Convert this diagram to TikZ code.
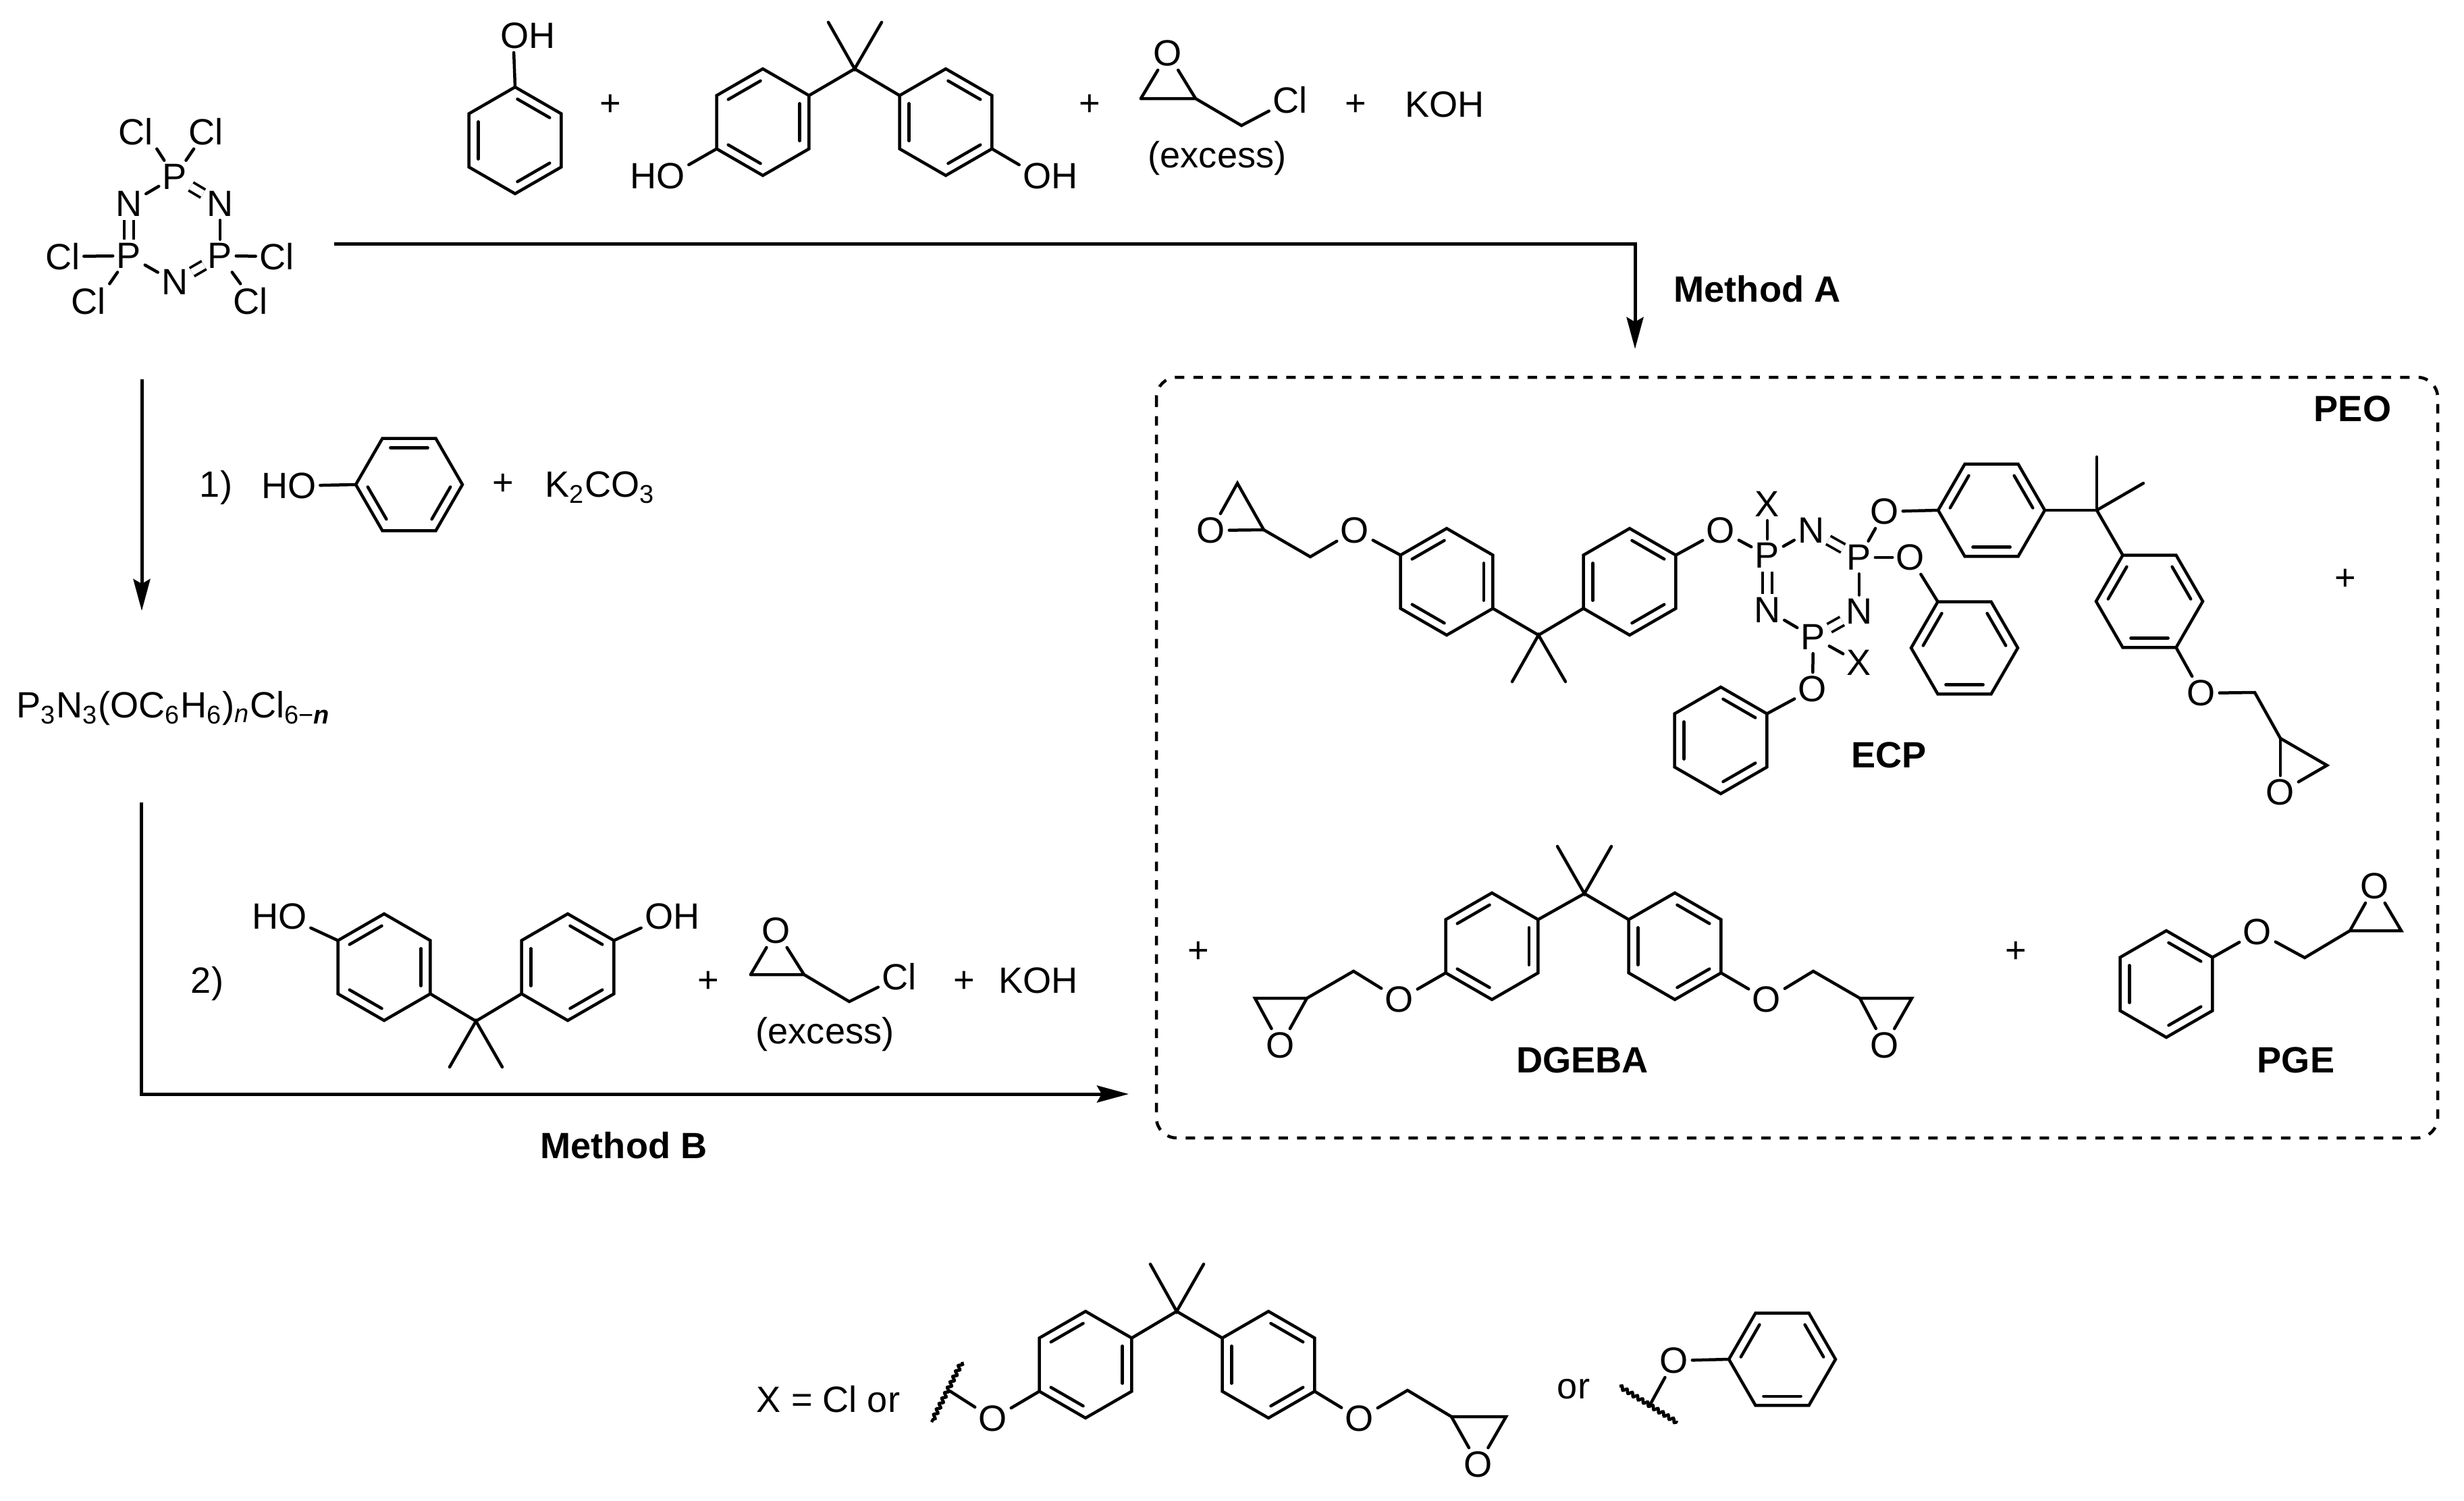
\documentclass[tikz,border=0pt]{standalone}
\usepackage{fontspec}
\setmainfont{Liberation Sans}
\usetikzlibrary{calc,arrows.meta,decorations.pathmorphing}

\newlength{\du}
\setlength{\du}{0.01cm}

\tikzset{
  bond/.style={line width=4.5\du,line cap=round,line join=miter},
  dblbond/.style={line width=3.8\du,double,double distance=10\du},
  innerbond/.style={bond,shorten >=4\du,shorten <=4\du},
  wavybond/.style={line width=4.5\du,decorate,decoration={snake,amplitude=2.5\du,segment length=9\du}},
  rxnarrow/.style={line width=5\du,-{Stealth[length=.47cm,width=.25cm,inset=.07cm]}},
  peobox/.style={line width=4.5\du,rounded corners=30\du,dash pattern=on 14\du off 13.5\du},
  atom/.style={inner sep=5\du,font=\fontsize{15.4}{18}\selectfont},
  txt/.style={inner sep=0pt,font=\fontsize{15.4}{18}\selectfont},
  lbl/.style={inner sep=0pt,font=\fontsize{15.4}{18}\selectfont\bfseries}
}

% ring: name, centre x, centre y, start angle, double bonds
\newcommand{\benzring}[5]{
  \coordinate (#1c) at (#2\du,#3\du);
  \foreach \i [evaluate=\i as \a using #4+60*(\i-1)] in {1,...,6}
    \coordinate (#1\i) at ([shift={(#2\du,#3\du)}]\a:79\du);
  \draw[bond] (#11)--(#12)--(#13)--(#14)--(#15)--(#16)--cycle;
  \foreach \p/\q in {#5}
    \draw[innerbond] ($(#1\p)!.2!(#1c)$)--($(#1\q)!.2!(#1c)$);
}

\begin{document}
\begin{tikzpicture}
\pgftransformyscale{-1.000000}
\useasboundingbox (0\du,0\du) rectangle (3650\du,2224\du);

% cyclophosphazene
\node[atom] (pA) at (259\du,262\du) {P};
\node[atom] (pB) at (191\du,379\du) {P};
\node[atom] (pC) at (326\du,379\du) {P};
\node[atom] (nA) at (191\du,302\du) {N};
\node[atom] (nB) at (326\du,302\du) {N};
\node[atom] (nC) at (259\du,418\du) {N};
\node[atom] (clA) at (201\du,195\du) {Cl};
\node[atom] (clB) at (305\du,195\du) {Cl};
\node[atom] (clC) at (93\du,380\du) {Cl};
\node[atom] (clD) at (410\du,380\du) {Cl};
\node[atom] (clF) at (131\du,446\du) {Cl};
\node[atom] (clG) at (371\du,446\du) {Cl};
\draw[bond] (pA)--(nA);
\draw[dblbond] (pA)--(nB);
\draw[dblbond] (nA)--(pB);
\draw[bond] (nB)--(pC);
\draw[bond] (pB)--(nC);
\draw[dblbond] (nC)--(pC);
\draw[bond] (pA)--(clA.south east);
\draw[bond] (pA)--(clB.-125);
\draw[bond] (pB)--(clC);
\draw[bond] (pC)--(clD);
\draw[bond] (pB)--(clF.north east);
\draw[bond] (pC)--(clG.120);

% phenol
\benzring{phA}{763}{208}{30}{1/2,3/4,5/6}
\node[atom] (ohA) at (782\du,53\du) {OH};
\draw[bond] (phA5)--(ohA.-130);
\node[txt] (plusA) at (904\du,156\du) {+};

% bisphenol A
\benzring{bpL}{1130}{181}{30}{6/1,2/3,4/5}
\benzring{bpR}{1401}{181}{30}{1/2,3/4,5/6}
\coordinate (cA) at (1266\du,102\du);
\coordinate (meA) at (1227\du,33\du);
\coordinate (meB) at (1306\du,33\du);
\draw[bond] (bpL6)--(cA)--(bpR4);
\draw[bond] (meA)--(cA)--(meB);
\node[atom] (hoA) at (974\du,261\du) {HO};
\node[atom] (ohB) at (1556\du,261\du) {OH};
\draw[bond] (bpL3)--(hoA.20);
\draw[bond] (bpR1)--(ohB.160);
\node[txt] (plusB) at (1614\du,156\du) {+};

% epichlorohydrin
\node[atom] (oE) at (1730\du,79\du) {O};
\coordinate (ecA) at (1690\du,146\du);
\coordinate (ecB) at (1771\du,146\du);
\coordinate (ecC) at (1839\du,186\du);
\node[atom] (clE) at (1911\du,148\du) {Cl};
\draw[bond] (ecA)--(oE);
\draw[bond] (ecB)--(oE);
\draw[bond] (ecA)--(ecB)--(ecC)--(clE);
\node[txt] (excA) at (1803\du,234\du) {(excess)};
\node[txt] (plusC) at (2008\du,156\du) {+};
\node[txt] (kohA) at (2140\du,155\du) {KOH};

% method A
\coordinate (arAa) at (495\du,361\du);
\coordinate (arAb) at (2422\du,517\du);
\draw[rxnarrow] (arAa)-|(arAb);
\node[lbl] (methA) at (2603\du,428\du) {Method A};

% step 1
\coordinate (arBa) at (210\du,562\du);
\coordinate (arBb) at (210\du,905\du);
\draw[rxnarrow] (arBa)--(arBb);
\node[txt] (stepA) at (320\du,722\du) {1)};
\benzring{phB}{606}{718}{0}{1/2,3/4,5/6}
\node[atom] (hoB) at (428\du,720\du) {HO};
\draw[bond] (hoB)--(phB4);
\node[txt] (plusD) at (745\du,718\du) {+};
\node[txt,anchor=base west] (kcA) at (807\du,736\du) {K\textsubscript{2}CO\textsubscript{3}};

\node[txt,anchor=base west] (formA) at (24\du,1063\du) {P\textsubscript{3}N\textsubscript{3}(OC\textsubscript{6}H\textsubscript{6})\textsubscript{\textit{n}}Cl\textsubscript{6−\textbf{\textit{n}}}};

% step 2
\coordinate (arCa) at (209\du,1189\du);
\coordinate (arCb) at (1672\du,1621\du);
\draw[rxnarrow] (arCa)|-(arCb);
\node[txt] (stepB) at (307\du,1457\du) {2)};
\benzring{bqL}{569}{1433}{30}{6/1,2/3,4/5}
\benzring{bqR}{841}{1433}{30}{1/2,3/4,5/6}
\coordinate (cB) at (705\du,1513\du);
\coordinate (meC) at (666\du,1581\du);
\coordinate (meD) at (744\du,1581\du);
\draw[bond] (bqL1)--(cB)--(bqR3);
\draw[bond] (meC)--(cB)--(meD);
\node[atom] (hoC) at (414\du,1358\du) {HO};
\node[atom] (ohC) at (996\du,1358\du) {OH};
\draw[bond] (bqL4)--(hoC.-20);
\draw[bond] (bqR6)--(ohC.200);
\node[txt] (plusF) at (1049\du,1455\du) {+};
\node[atom] (oF) at (1150\du,1379\du) {O};
\coordinate (edA) at (1112\du,1444\du);
\coordinate (edB) at (1191\du,1444\du);
\coordinate (edC) at (1258\du,1484\du);
\node[atom] (clH) at (1332\du,1447\du) {Cl};
\draw[bond] (edA)--(oF);
\draw[bond] (edB)--(oF);
\draw[bond] (edA)--(edB)--(edC)--(clH);
\node[txt] (excB) at (1222\du,1532\du) {(excess)};
\node[txt] (plusG) at (1428\du,1455\du) {+};
\node[txt] (kohB) at (1538\du,1453\du) {KOH};
\node[lbl] (methB) at (924\du,1697\du) {Method B};

% product box
\coordinate (boxA) at (1713\du,559\du);
\coordinate (boxB) at (3611\du,1686\du);
\draw[peobox] (boxA) rectangle (boxB);
\node[lbl] (peo) at (3485\du,606\du) {PEO};

% ECP
\node[atom] (oG) at (1794\du,786\du) {O};
\coordinate (eeA) at (1833\du,716\du);
\coordinate (eeB) at (1872\du,785\du);
\coordinate (eeC) at (1941\du,825\du);
\node[atom] (oH) at (2007\du,786\du) {O};
\draw[bond] (oG)--(eeA)--(eeB);
\draw[bond] (oG)--(eeB);
\draw[bond] (eeB)--(eeC)--(oH);
\benzring{caL}{2143}{862}{30}{6/1,2/3,4/5}
\benzring{caR}{2414}{862}{30}{1/2,3/4,5/6}
\draw[bond] (oH)--(caL4);
\coordinate (cC) at (2279\du,941\du);
\coordinate (meF) at (2240\du,1010\du);
\coordinate (meG) at (2319\du,1010\du);
\draw[bond] (caL1)--(cC)--(caR3);
\draw[bond] (meF)--(cC)--(meG);
\node[atom] (oI) at (2549\du,786\du) {O};
\draw[bond] (caR6)--(oI);
\node[atom] (pD) at (2618\du,823\du) {P};
\node[atom] (pE) at (2754\du,826\du) {P};
\node[atom] (pF) at (2686\du,944\du) {P};
\node[atom] (nD) at (2683\du,786\du) {N};
\node[atom] (nE) at (2618\du,904\du) {N};
\node[atom] (nF) at (2754\du,906\du) {N};
\node[atom] (xA) at (2618\du,747\du) {X};
\node[atom] (xB) at (2754\du,982\du) {X};
\draw[bond] (oI)--(pD);
\draw[bond] (pD)--(xA);
\draw[bond] (pD)--(nD);
\draw[dblbond] (nD)--(pE);
\draw[dblbond] (pD)--(nE);
\draw[bond] (pE)--(nF);
\draw[dblbond] (nF)--(pF);
\draw[bond] (nE)--(pF);
\draw[bond] (pF)--(xB);
\node[atom] (oJ) at (2685\du,1021\du) {O};
\draw[bond] (pF)--(oJ);
\benzring{phC}{2549}{1097}{30}{1/2,3/4,5/6}
\draw[bond] (oJ)--(phC6);
\node[atom] (oK) at (2830\du,826\du) {O};
\draw[bond] (pE)--(oK);
\benzring{phD}{2910}{960}{0}{6/1,2/3,4/5}
\draw[bond] (oK)--(phD5);
\node[atom] (oL) at (2792\du,758\du) {O};
\draw[bond] (pE)--(oL);
\benzring{cbA}{2950}{756}{0}{6/1,2/3,4/5}
\draw[bond] (oL)--(cbA4);
\coordinate (cD) at (3106\du,756\du);
\coordinate (meH) at (3106\du,677\du);
\coordinate (meI) at (3175\du,716\du);
\draw[bond] (cbA1)--(cD)--(meH);
\draw[bond] (cD)--(meI);
\benzring{cbB}{3184}{891}{0}{6/1,2/3,4/5}
\draw[bond] (cD)--(cbB5);
\node[atom] (oM) at (3261\du,1027\du) {O};
\draw[bond] (cbB2)--(oM);
\coordinate (efA) at (3340\du,1026\du);
\coordinate (efB) at (3378\du,1094\du);
\coordinate (efC) at (3447\du,1134\du);
\node[atom] (oN) at (3378\du,1174\du) {O};
\draw[bond] (oM)--(efA)--(efB)--(efC)--(oN);
\draw[bond] (efB)--(oN);
\node[txt] (plusH) at (3474\du,859\du) {+};
\node[lbl] (ecp) at (2798\du,1119\du) {ECP};

% DGEBA
\node[txt] (plusI) at (1775\du,1411\du) {+};
\node[atom] (oP) at (1897\du,1549\du) {O};
\coordinate (egA) at (1859\du,1479\du);
\coordinate (egB) at (1936\du,1479\du);
\coordinate (egC) at (2005\du,1439\du);
\node[atom] (oQ) at (2073\du,1481\du) {O};
\draw[bond] (oP)--(egA)--(egB)--(oP);
\draw[bond] (egB)--(egC)--(oQ);
\benzring{dgL}{2210}{1402}{30}{6/1,2/3,4/5}
\benzring{dgR}{2481}{1402}{30}{1/2,3/4,5/6}
\draw[bond] (oQ)--(dgL3);
\coordinate (cF) at (2347\du,1324\du);
\coordinate (meJ) at (2307\du,1254\du);
\coordinate (meK) at (2387\du,1254\du);
\draw[bond] (dgL6)--(cF)--(dgR4);
\draw[bond] (meJ)--(cF)--(meK);
\node[atom] (oR) at (2617\du,1481\du) {O};
\draw[bond] (dgR1)--(oR);
\coordinate (ehA) at (2686\du,1439\du);
\coordinate (ehB) at (2755\du,1479\du);
\coordinate (ehC) at (2832\du,1479\du);
\node[atom] (oS) at (2792\du,1549\du) {O};
\draw[bond] (oR)--(ehA)--(ehB)--(ehC)--(oS);
\draw[bond] (ehB)--(oS);
\node[lbl] (dgeba) at (2344\du,1571\du) {DGEBA};

% PGE
\node[txt] (plusJ) at (2986\du,1411\du) {+};
\benzring{pgA}{3209}{1458}{30}{1/2,3/4,5/6}
\node[atom] (oT) at (3344\du,1381\du) {O};
\draw[bond] (pgA6)--(oT);
\coordinate (eiA) at (3414\du,1419\du);
\coordinate (eiB) at (3481\du,1379\du);
\coordinate (eiC) at (3557\du,1379\du);
\node[atom] (oU) at (3518\du,1313\du) {O};
\draw[bond] (oT)--(eiA)--(eiB)--(eiC)--(oU);
\draw[bond] (eiB)--(oU);
\node[lbl] (pge) at (3401\du,1571\du) {PGE};

% X definition
\node[txt] (xdef) at (1227\du,2073\du) {X = Cl or};
\coordinate (wvA) at (1425\du,2018\du);
\coordinate (wvB) at (1380\du,2107\du);
\coordinate (wvC) at (1407\du,2061\du);
\draw[wavybond] (wvA)--(wvB);
\node[atom] (oV) at (1471\du,2102\du) {O};
\draw[bond] (wvC)--(oV);
\benzring{xbL}{1608}{2022}{30}{6/1,2/3,4/5}
\benzring{xbR}{1879}{2022}{30}{1/2,3/4,5/6}
\draw[bond] (oV)--(xbL3);
\coordinate (cG) at (1743\du,1943\du);
\coordinate (meL) at (1704\du,1873\du);
\coordinate (meM) at (1783\du,1873\du);
\draw[bond] (xbL6)--(cG)--(xbR4);
\draw[bond] (meL)--(cG)--(meM);
\node[atom] (oW) at (2014\du,2102\du) {O};
\draw[bond] (xbR1)--(oW);
\coordinate (ejA) at (2085\du,2060\du);
\coordinate (ejB) at (2150\du,2099\du);
\coordinate (ejC) at (2231\du,2099\du);
\node[atom] (oY) at (2190\du,2170\du) {O};
\draw[bond] (oW)--(ejA)--(ejB)--(ejC)--(oY);
\draw[bond] (ejB)--(oY);
\node[txt] (orA) at (2331\du,2058\du) {or};
\coordinate (wvF) at (2399\du,2054\du);
\coordinate (wvG) at (2485\du,2108\du);
\coordinate (wvH) at (2445\du,2080\du);
\draw[wavybond] (wvF)--(wvG);
\node[atom] (oZ) at (2480\du,2016\du) {O};
\draw[bond] (wvH)--(oZ);
\benzring{xbP}{2640}{2014}{0}{6/1,2/3,4/5}
\draw[bond] (oZ)--(xbP4);
\end{tikzpicture}
\end{document}
